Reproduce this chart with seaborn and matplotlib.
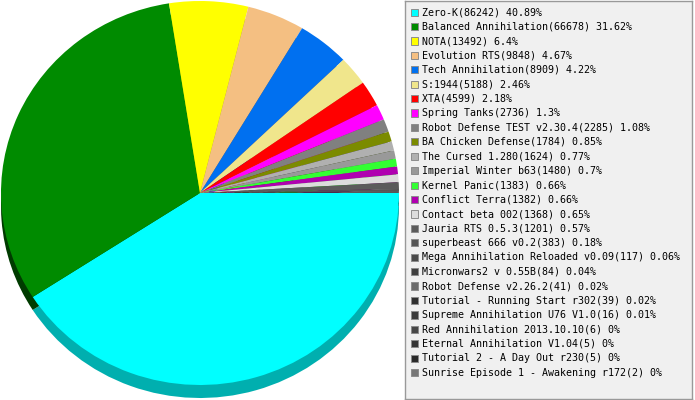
import matplotlib
matplotlib.use("Agg")
import matplotlib.pyplot as plt
import matplotlib.patches as mpatches
import seaborn as sns
import numpy as np

games = ["Zero-K", "Balanced Annihilation", "NOTA", "Evolution RTS", "Tech Annihilation",
         "S:1944", "XTA", "Spring Tanks", "Robot Defense TEST v2.30.4", "BA Chicken Defense",
         "The Cursed 1.280", "Imperial Winter b63", "Kernel Panic", "Conflict Terra",
         "Contact beta 002", "Jauria RTS 0.5.3", "superbeast 666 v0.2",
         "Mega Annihilation Reloaded v0.09", "Micronwars2 v 0.55B", "Robot Defense v2.26.2",
         "Tutorial - Running Start r302", "Supreme Annihilation U76 V1.0",
         "Red Annihilation 2013.10.10", "Eternal Annihilation V1.04",
         "Tutorial 2 - A Day Out r230", "Sunrise Episode 1 - Awakening r172"]
counts = [86242, 66678, 13492, 9848, 8909, 5188, 4599, 2736, 2285, 1784, 1624, 1480, 1383,
          1382, 1368, 1201, 383, 117, 84, 41, 39, 16, 6, 5, 5, 2]
colors = ["#00FFFF", "#008B00", "#FFFF00", "#F4BF82", "#0070F0", "#F0E68C", "#FF0000",
          "#FF00FF", "#808080", "#7B8B00", "#B0B0B0", "#999999", "#33FF33", "#B000B0",
          "#DCDCDC", "#5B5B5B", "#555555", "#4A4A4A", "#3F3F3F", "#6B6B6B", "#2F2F2F",
          "#3A3A3A", "#474747", "#353535", "#2A2A2A", "#777777"]

sns.set_style("white")
plt.rcParams['font.family'] = ['DejaVu Sans Mono']

W, H = 695, 400
fig = plt.figure(figsize=(W / 100, H / 100), dpi=100)
fig.patch.set_facecolor("white")

# pie geometry in pixels
cx_l, cx_r = 1, 399
top, surf_bot, depth = 1, 385, 13
ry = (surf_bot - top) / 2.0
d = depth / ry
ax = fig.add_axes([cx_l / W, (H - (surf_bot + depth)) / H, (cx_r - cx_l) / W, (surf_bot + depth - top) / H])


def darker(c, amt=80):
    r, g, b = [int(round(v * 255)) for v in matplotlib.colors.to_rgb(c)]
    return "#%02X%02X%02X" % (max(r - amt, 0), max(g - amt, 0), max(b - amt, 0))


side_colors = [darker(c) for c in colors]
ax.pie(counts, colors=side_colors, startangle=0, counterclock=False, center=(0, -d),
       wedgeprops=dict(linewidth=0))
ax.pie(counts, colors=colors, startangle=0, counterclock=False, center=(0, 0),
       wedgeprops=dict(linewidth=0))
ax.set_aspect("auto")
ax.set_xlim(-1, 1)
ax.set_ylim(-1 - d, 1)
ax.axis("off")

# legend box
lx0, ly0, lx1, ly1 = 405, 1, 692, 399
lax = fig.add_axes([lx0 / W, (H - ly1) / H, (lx1 - lx0) / W, (ly1 - ly0) / H])
lax.set_xlim(lx0, lx1)
lax.set_ylim(ly1, ly0)
lax.set_facecolor("#F0F0F0")
for s in lax.spines.values():
    s.set_color("#999999")
    s.set_linewidth(1)
lax.set_xticks([])
lax.set_yticks([])

total = sum(counts)
y0, step = 12.2, 14.42
for i, (g, c, col) in enumerate(zip(games, counts, colors)):
    y = y0 + i * step
    lax.add_patch(mpatches.Rectangle((410.5, y - 3.7), 7.2, 7.2, facecolor=col,
                                     edgecolor="#8C8C8C", linewidth=0.7))
    pct = ("%.2f" % (100.0 * c / total)).rstrip("0").rstrip(".")
    lax.text(421.5, y, f"{g}({c}) {pct}%", fontsize=7.2, va="center", ha="left",
             color="black")

fig.savefig("out.png", dpi=100)
